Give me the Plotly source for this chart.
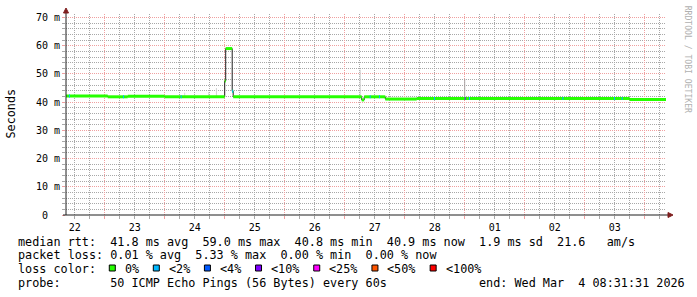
import plotly.graph_objects as go
import pandas as pd

# ---------------- data ----------------
START = "2026-02-22 08:31:31"
END = "2026-03-04 08:31:31"

# median rtt (ms) as piecewise-constant segments (segment start times)
seg_start = ["2026-02-22 08:31:31", "2026-02-23 01:12", "2026-02-23 09:12", "2026-02-24 00:00",
             "2026-02-25 00:00", "2026-02-25 00:24", "2026-02-25 03:00", "2026-02-25 03:24",
             "2026-02-27 06:48", "2026-02-27 07:48", "2026-02-27 16:15", "2026-02-28 04:48",
             "2026-03-03 18:00"]
seg_rtt = [42.2, 41.9, 42.1, 41.9, 47.5, 59.0, 43.9, 41.9, 40.8, 41.9, 41.1, 41.3, 40.9]

# samples with packet loss (%)
loss_time = ["2026-02-22 09:43", "2026-02-23 07:19", "2026-02-24 06:24", "2026-02-25 03:00",
             "2026-02-27 10:00", "2026-02-27 13:43", "2026-02-28 11:43", "2026-03-01 00:00",
             "2026-03-01 01:43", "2026-03-02 15:05", "2026-03-03 11:43", "2026-03-03 14:48"]
loss_pct = [1.0, 1.0, 1.0, 1.5, 1.0, 1.0, 1.0, 5.33, 1.0, 1.0, 1.0, 1.0]

# smoke (ping spread upper bound, ms) and fraction of pings in it
smoke_time = ["2026-02-24 08:00", "2026-02-24 17:36", "2026-02-24 20:41", "2026-02-27 06:12", "2026-03-01 00:00"]
smoke_hi = [43.4, 43.6, 45.0, 51.5, 48.2]
smoke_frac = [0.1, 0.1, 0.12, 0.15, 0.35]

# loss colour legend
loss_labels = ["0%", "<2%", "<4%", "<10%", "<25%", "<50%", "<100%"]
loss_limits = [0, 2, 4, 10, 25, 50, 100]
loss_colors = ["#26ff00", "#00b8ff", "#0059ff", "#7e00ff", "#ff00ff", "#ff5500", "#ff0000"]

# y ticks
y_ticks = [0, 10, 20, 30, 40, 50, 60, 70]
y_ticktext = ["0\u00a0\u00a0", "10 m", "20 m", "30 m", "40 m", "50 m", "60 m", "70 m"]

# statistics
rtt_avg, rtt_max, rtt_min, rtt_now, rtt_sd, am_s = 41.8, 59.0, 40.8, 40.9, 1.9, 21.6
loss_avg, loss_max, loss_min, loss_now = 0.01, 5.33, 0.00, 0.00
probe_text = "50 ICMP Echo Pings (56 Bytes) every 60s"

# ---------------- figure ----------------
MONO = "DejaVu Sans Mono"
W, H = 697, 297
ML, MR, MT, MB = 66, 31, 14, 82
PW, PH = W - ML - MR, H - MT - MB
Y_RANGE = [0, 71.25]

def px_x(x):
    return (x - ML) / PW

def px_y(y):
    return (H - MB - y) / PH

def ts(v):
    return pd.to_datetime(v, format="mixed")

st = list(ts(seg_start))
end_ts = ts(END)
en = st[1:] + [end_ts]

def rtt_at(t):
    t = ts(t)
    v = seg_rtt[0]
    for s, r in zip(st, seg_rtt):
        if t >= s:
            v = r
    return v

def loss_color(p):
    for lim, c in zip(loss_limits, loss_colors):
        if p <= lim:
            return c
    return loss_colors[-1]

fig = go.Figure()

# smoke
for t, hi, f in zip(smoke_time, smoke_hi, smoke_frac):
    g = int(235 - 200 * f)
    fig.add_trace(go.Scatter(x=[ts(t), ts(t)], y=[rtt_at(t), hi], mode="lines",
                             line=dict(color=f"rgb({g},{g},{g})", width=1), hoverinfo="skip"))

# black median step line
fig.add_trace(go.Scatter(x=st + [end_ts], y=seg_rtt + [seg_rtt[-1]],
                         mode="lines", line=dict(color="#202020", width=1, shape="hv"),
                         hoverinfo="skip"))

# green median band (no vertical connections)
gx, gy = [], []
for s, e, r in zip(st, en, seg_rtt):
    gx += [s, e, None]
    gy += [r, r, None]
fig.add_trace(go.Scatter(x=gx, y=gy, mode="lines", line=dict(color=loss_colors[0], width=3),
                         connectgaps=False, hoverinfo="skip"))

# loss-coloured samples
for t, p in zip(loss_time, loss_pct):
    t0 = ts(t)
    t1 = t0 + pd.Timedelta(minutes=24)
    v = rtt_at(t0)
    fig.add_trace(go.Scatter(x=[t0, t1], y=[v, v], mode="lines",
                             line=dict(color=loss_color(p), width=3), hoverinfo="skip"))

# invisible trace on the overlay axes so they are drawn
fig.add_trace(go.Scatter(x=[START], y=[0], xaxis="x2", yaxis="y2", mode="markers",
                         marker=dict(opacity=0), hoverinfo="skip"))

MAJ = "#f0a0a0"
MIN = "#a8a8a8"
DASH = "1px,1px"

fig.update_layout(
    width=W, height=H, margin=dict(l=ML, r=MR, t=MT, b=MB),
    paper_bgcolor="white", plot_bgcolor="white", showlegend=False,
    font=dict(family=MONO, size=10, color="black"),
    # minor grid (6 h / 2 ms)
    xaxis=dict(type="date", range=[START, END], tickmode="linear", tick0="2026-02-23",
               dtick=21600000, showticklabels=False, showgrid=True, gridcolor=MIN,
               griddash=DASH, gridwidth=1, ticks="outside", ticklen=3, tickcolor=MIN,
               zeroline=False, showline=False),
    yaxis=dict(range=Y_RANGE, tickmode="linear", tick0=0, dtick=2, showticklabels=False,
               showgrid=True, gridcolor=MIN, griddash=DASH, ticks="outside", ticklen=3,
               tickcolor=MIN, zeroline=False, showline=False),
    # major grid and labels (days / 10 ms)
    xaxis2=dict(type="date", overlaying="x", anchor="y", side="bottom", range=[START, END],
                tick0="2026-02-23", dtick=86400000, ticklabelmode="period", tickformat="%d",
                showgrid=True, gridcolor=MAJ, griddash=DASH, gridwidth=1, ticks="outside",
                ticklen=3, tickcolor=MAJ, zeroline=False, showline=False,
                tickfont=dict(family=MONO, size=10)),
    yaxis2=dict(overlaying="y", anchor="x", side="left", range=Y_RANGE, tickmode="array",
                tickvals=y_ticks, ticktext=y_ticktext, showgrid=True, gridcolor=MAJ,
                griddash=DASH, ticks="outside", ticklen=3, tickcolor=MAJ, zeroline=False,
                showline=False, tickfont=dict(family=MONO, size=10)),
)

shapes = []
# axes lines
shapes.append(dict(type="line", xref="paper", yref="paper", xsizemode="pixel", ysizemode="pixel",
                   xanchor=0, yanchor=0, x0=0, x1=0, y0=0, y1=204,
                   line=dict(color="#1f1f1f", width=1), layer="above"))
shapes.append(dict(type="line", xref="paper", yref="paper", xsizemode="pixel", ysizemode="pixel",
                   xanchor=0, yanchor=0, x0=-3, x1=603, y0=0, y1=0,
                   line=dict(color="#1f1f1f", width=1), layer="above"))
# arrows
shapes.append(dict(type="path", xref="paper", yref="paper", xsizemode="pixel", ysizemode="pixel",
                   xanchor=0, yanchor=1, path="M -2.5,1 L 2.5,1 L 0,6 Z",
                   fillcolor="#7f1f1f", line=dict(color="#7f1f1f", width=1), layer="above"))
shapes.append(dict(type="path", xref="paper", yref="paper", xsizemode="pixel", ysizemode="pixel",
                   xanchor=1, yanchor=0, path="M 2,-2.5 L 2,2.5 L 7,0 Z",
                   fillcolor="#7f1f1f", line=dict(color="#7f1f1f", width=1), layer="above"))

NB = "\u00a0"
def mono(s):
    return s.replace(" ", NB)

TXT = 11.79
CW = 0.6021 * TXT
X0 = 15.6
ann = []
def add_text(s, x, y, size=TXT, color="black", **kw):
    d = dict(text=mono(s), xref="paper", yref="paper", x=px_x(x), y=px_y(y), showarrow=False,
             font=dict(family=MONO, size=size, color=color), xanchor="left", yanchor="middle")
    d.update(kw)
    ann.append(d)

line1 = (f"median rtt:  {rtt_avg:.1f} ms avg  {rtt_max:.1f} ms max  {rtt_min:.1f} ms min  "
         f"{rtt_now:.1f} ms now  {rtt_sd:.1f} ms sd  {am_s:.1f}   am/s")
line2 = (f"packet loss: {loss_avg:.2f} % avg  {loss_max:.2f} % max  {loss_min:.2f} % min  "
         f"{loss_now:.2f} % now")
add_text(line1, X0, 241.5)
add_text(line2, X0, 255.2)
add_text("loss color:", X0, 269)
add_text("probe:       " + probe_text, X0, 282.7)
end_str = end_ts.strftime("%a %b ") + f"{end_ts.day:2d}" + end_ts.strftime(" %H:%M:%S %Y")
add_text("end: " + end_str, X0 + 65 * CW, 282.7)

# loss colour legend entries
tx = X0 + 15.1 * CW
for lab, col in zip(loss_labels, loss_colors):
    sq = tx - 14
    shapes.append(dict(type="rect", xref="paper", yref="paper", x0=px_x(sq + 0.5), x1=px_x(sq + 6.5),
                       y0=px_y(271), y1=px_y(265), fillcolor=col,
                       line=dict(color="black", width=1), layer="above"))
    add_text(lab, tx, 269)
    tx += (len(lab) + 4.2) * CW

# axis title and watermark
ann.append(dict(text="Seconds", xref="paper", yref="paper", x=px_x(10.5), y=px_y(114),
                showarrow=False, textangle=-90, font=dict(family=MONO, size=TXT, color="black"),
                xanchor="center", yanchor="middle"))
ann.append(dict(text=mono("RRDTOOL / TOBI OETIKER"), xref="paper", yref="paper", x=px_x(688.3),
                y=px_y(59), showarrow=False, textangle=90,
                font=dict(family=MONO, size=8.1, color="#b0b0b0"),
                xanchor="center", yanchor="middle"))

fig.update_layout(shapes=shapes, annotations=ann)
fig.write_html("out.html")
